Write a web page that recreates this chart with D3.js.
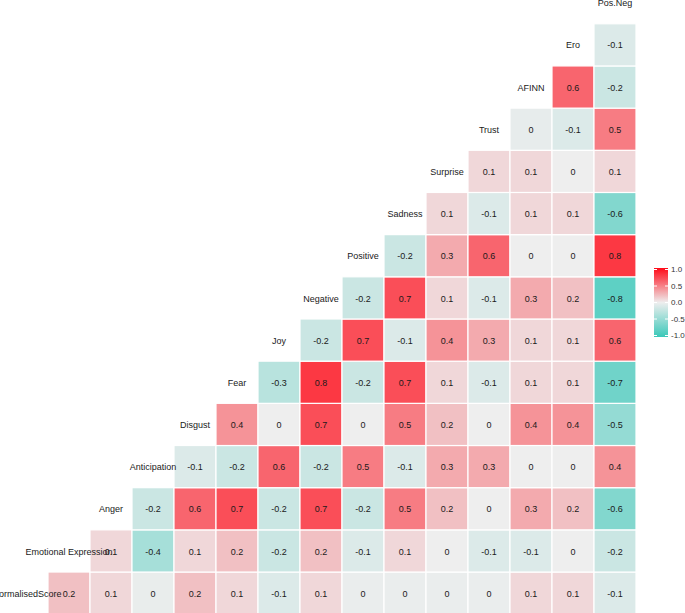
<!DOCTYPE html>
<html>
<head>
<meta charset="utf-8">
<script src="https://cdn.jsdelivr.net/npm/d3@7"></script>
<style>
  html, body { margin: 0; padding: 0; background: #fff; }
  svg { display: block; }
  text { font-family: "Liberation Sans", Arial, sans-serif; }
</style>
</head>
<body>
<svg id="chart" width="685" height="613"></svg>
<script>
// Variables, bottom-to-top rows / left-to-right columns
const variables = ["NormalisedScore", "Emotional Expression", "Anger", "Anticipation", "Disgust",
  "Fear", "Joy", "Negative", "Positive", "Sadness", "Surprise", "Trust", "AFINN", "Ero", "Pos.Neg"];

// Correlations: each row variable with the variables to its right (column order)
// (values near zero estimated from cell tint; labels show them rounded to 1 decimal)
const rNormalisedScore = [0.2, 0.1, -0.03, 0.2, 0.1, -0.1, 0.1, -0.02, -0.02, -0.02, -0.02, 0.1, 0.1, -0.1];
const rEmotional = [0.1, -0.4, 0.1, 0.2, -0.2, 0.2, -0.1, 0.1, 0, -0.1, -0.1, 0, -0.2];
const rAnger = [-0.2, 0.6, 0.7, -0.2, 0.7, -0.2, 0.5, 0.2, 0, 0.3, 0.2, -0.6];
const rAnticipation = [-0.1, -0.2, 0.6, -0.2, 0.5, -0.1, 0.3, 0.3, 0, 0, 0.4];
const rDisgust = [0.4, 0, 0.7, 0, 0.5, 0.2, 0, 0.4, 0.4, -0.5];
const rFear = [-0.3, 0.8, -0.2, 0.7, 0.1, -0.1, 0.1, 0.1, -0.7];
const rJoy = [-0.2, 0.7, -0.1, 0.4, 0.3, 0.1, 0.1, 0.6];
const rNegative = [-0.2, 0.7, 0.1, -0.1, 0.3, 0.2, -0.8];
const rPositive = [-0.2, 0.3, 0.6, 0, 0, 0.8];
const rSadness = [0.1, -0.1, 0.1, 0.1, -0.6];
const rSurprise = [0.1, 0.1, 0, 0.1];
const rTrust = [-0.04, -0.1, 0.5];
const rAFINN = [0.6, -0.2];
const rEro = [-0.1];

const rows = [rNormalisedScore, rEmotional, rAnger, rAnticipation, rDisgust, rFear, rJoy,
  rNegative, rPositive, rSadness, rSurprise, rTrust, rAFINN, rEro];

const legendTicks = [1.0, 0.5, 0.0, -0.5, -1.0];

const cells = [];
rows.forEach((vals, i) => {
  vals.forEach((v, j) => {
    cells.push({ row: variables[i], col: variables[i + 1 + j], value: v });
  });
});

const svg = d3.select("#chart");

const x = d3.scaleBand().domain(variables).range([6, 636]);
const y = d3.scaleBand().domain(variables.slice().reverse()).range([-18.4, 614.2]);

const lowC = "#3AC8B9", midC = "#EEEEEE", highC = "#FF0A18";
const color = d3.scaleLinear().domain([-1, 0, 1]).range([lowC, midC, highC])
  .interpolate(d3.interpolateRgb).clamp(true);

const g = svg.append("g");

g.selectAll("rect.cell").data(cells).enter().append("rect")
  .attr("class", "cell")
  .attr("x", d => x(d.col))
  .attr("y", d => y(d.row))
  .attr("width", x.bandwidth())
  .attr("height", y.bandwidth())
  .attr("fill", d => color(d.value))
  .attr("stroke", "#fff")
  .attr("stroke-width", 1.2);

const fmt = v => {
  const r = Math.round(v * 10) / 10;
  return Math.abs(r) < 1e-9 ? "0" : String(r);
};

g.selectAll("text.val").data(cells).enter().append("text")
  .attr("class", "val")
  .attr("x", d => x(d.col) + x.bandwidth() / 2)
  .attr("y", d => y(d.row) + y.bandwidth() / 2)
  .attr("dy", "0.4em")
  .attr("text-anchor", "middle")
  .attr("font-size", "9px")
  .attr("fill", "#1a1a1a")
  .text(d => fmt(d.value));

// diagonal labels
g.selectAll("text.diag").data(variables).enter().append("text")
  .attr("class", "diag")
  .attr("x", d => x(d) + x.bandwidth() / 2)
  .attr("y", d => y(d) + y.bandwidth() / 2)
  .attr("dy", "0.4em")
  .attr("text-anchor", "middle")
  .attr("font-size", "9px")
  .attr("fill", "#1a1a1a")
  .text(d => d);

// Legend colour bar
const lg = svg.append("g");
const barX = 654, barW = 14, barTop = 268, barBot = 337;
const ly = d3.scaleLinear().domain([1, -1]).range([barTop + 1.5, barBot - 1.5]);
const defs = svg.append("defs");
const grad = defs.append("linearGradient").attr("id", "lgGrad")
  .attr("x1", 0).attr("y1", 1).attr("x2", 0).attr("y2", 0);
d3.range(0, 21).forEach(i => {
  const v = -1 + i * 0.1;
  grad.append("stop").attr("offset", (i / 20)).attr("stop-color", color(v));
});
lg.append("rect").attr("x", barX).attr("y", barTop).attr("width", barW)
  .attr("height", barBot - barTop).attr("fill", "url(#lgGrad)");
legendTicks.forEach(t => {
  lg.append("line").attr("x1", barX).attr("x2", barX + 3)
    .attr("y1", ly(t)).attr("y2", ly(t)).attr("stroke", "#fff").attr("stroke-width", 1);
  lg.append("line").attr("x1", barX + barW - 3).attr("x2", barX + barW)
    .attr("y1", ly(t)).attr("y2", ly(t)).attr("stroke", "#fff").attr("stroke-width", 1);
});
lg.selectAll("text").data(legendTicks).enter().append("text")
  .attr("x", 671)
  .attr("y", d => ly(d))
  .attr("dy", "0.35em")
  .attr("font-size", "8px")
  .attr("fill", "#333")
  .text(d => d.toFixed(1));
</script>
</body>
</html>
